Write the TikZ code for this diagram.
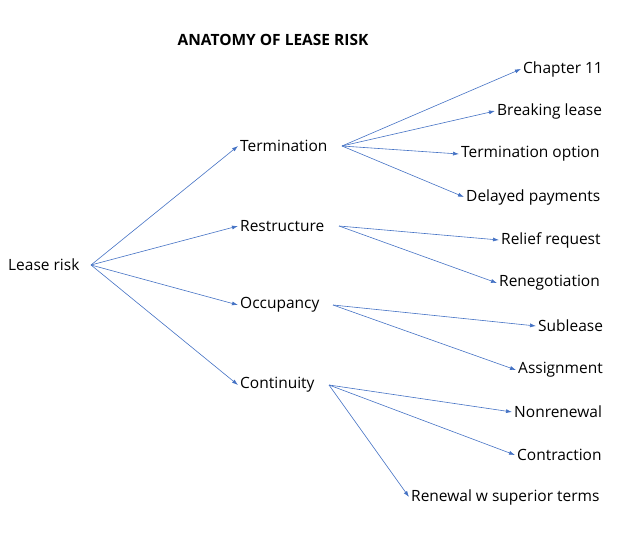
\documentclass[tikz,border=0pt]{standalone}
\usepackage{fontspec}
\setmainfont{Open Sans}
\usetikzlibrary{arrows.meta}
\definecolor{arr}{HTML}{4472C4}
\begin{document}
\begin{tikzpicture}[x=1pt,y=-1pt,
  lbl/.style={inner sep=2pt,font=\fontsize{15.5}{18}\selectfont},
  conn/.style={draw=arr,line width=0.6pt,-{Latex[length=6pt,width=4pt]}}]
\useasboundingbox (0,0) rectangle (630,545);
\node[font=\fontsize{15.5}{18}\selectfont\bfseries] (title) at (273,40) {ANATOMY OF LEASE RISK};
\node[lbl,anchor=west] (root) at (6,265) {Lease risk};
\node[lbl,anchor=west] (t) at (238,146) {Termination};
\node[lbl,anchor=west] (r) at (238,226) {Restructure};
\node[lbl,anchor=west] (o) at (238,305) {Occupancy};
\node[lbl,anchor=west] (c) at (238,385) {Continuity};
\node[lbl,anchor=west] (t1) at (521,69) {Chapter 11};
\node[lbl,anchor=west] (t2) at (495,111) {Breaking lease};
\node[lbl,anchor=west] (t3) at (459,154) {Termination option};
\node[lbl,anchor=west] (t4) at (464,197) {Delayed payments};
\node[lbl,anchor=west] (r1) at (499,240) {Relief request};
\node[lbl,anchor=west] (r2) at (497,283) {Renegotiation};
\node[lbl,anchor=west] (o1) at (536,326) {Sublease};
\node[lbl,anchor=west] (o2) at (516,370) {Assignment};
\node[lbl,anchor=west] (c1) at (512,412) {Nonrenewal};
\node[lbl,anchor=west] (c2) at (515,455) {Contraction};
\node[lbl,anchor=west] (c3) at (409,497) {Renewal w superior terms};
\coordinate (rs) at (91,265);
\coordinate (ts) at (342,146);
\coordinate (rrs) at (339,226);
\coordinate (os) at (333,305);
\coordinate (cs) at (329,385);
\draw[conn] (rs) -- (t.west);
\draw[conn] (rs) -- (r.west);
\draw[conn] (rs) -- (o.west);
\draw[conn] (rs) -- (c.west);
\draw[conn] (ts) -- (t1.west);
\draw[conn] (ts) -- (t2.west);
\draw[conn] (ts) -- (t3.west);
\draw[conn] (ts) -- (t4.west);
\draw[conn] (rrs) -- (r1.west);
\draw[conn] (rrs) -- (r2.west);
\draw[conn] (os) -- (o1.west);
\draw[conn] (os) -- (o2.west);
\draw[conn] (cs) -- (c1.west);
\draw[conn] (cs) -- (c2.west);
\draw[conn] (cs) -- (c3.west);
\end{tikzpicture}
\end{document}
